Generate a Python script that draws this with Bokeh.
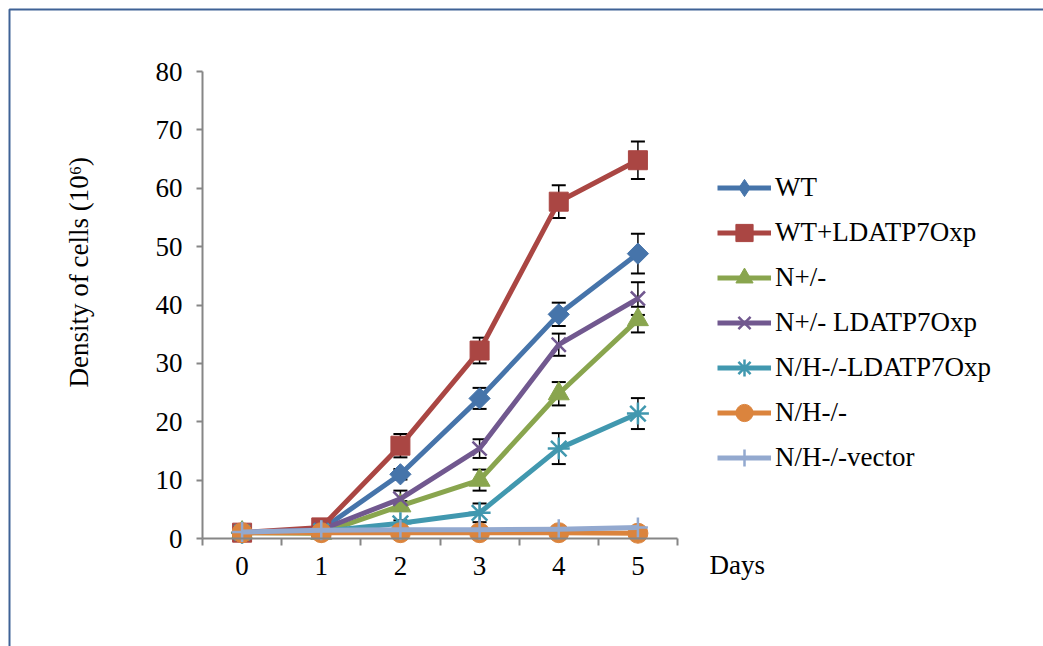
import math

from bokeh.plotting import figure
from bokeh.models import (Range1d, FixedTicker, Legend, LegendItem, Whisker, TeeHead,
                          ColumnDataSource, Label, BoxAnnotation)
from bokeh.embed import file_html
from bokeh.resources import INLINE

# ---- data -------------------------------------------------------------
days = [0, 1, 2, 3, 4, 5]
y_ticks = [0, 10, 20, 30, 40, 50, 60, 70, 80]

wt = [1.0, 1.5, 11.0, 24.0, 38.4, 48.8]
wt_err = [0.0, 0.0, 0.9, 1.8, 2.0, 3.4]

wt_ox = [1.0, 1.9, 15.9, 32.2, 57.7, 64.8]
wt_ox_err = [0.0, 0.0, 2.0, 2.2, 2.8, 3.2]

n_het = [1.0, 0.9, 5.6, 10.0, 24.8, 37.5]
n_het_err = [0.0, 0.0, 0.8, 1.8, 2.0, 2.2]

n_het_ox = [1.0, 1.5, 6.8, 15.4, 33.2, 41.1]
n_het_ox_err = [0.0, 0.0, 1.4, 1.6, 1.9, 2.8]

nh_ko_ox = [1.0, 1.2, 2.6, 4.4, 15.4, 21.4]
nh_ko_ox_err = [0.0, 0.0, 0.5, 1.6, 2.65, 2.65]

nh_ko = [1.0, 1.0, 1.0, 1.0, 1.0, 0.9]

nh_ko_vec = [1.1, 1.4, 1.5, 1.5, 1.6, 1.9]

names = ["WT", "WT+LDATP7Oxp", "N+/-", "N+/- LDATP7Oxp",
         "N/H-/-LDATP7Oxp", "N/H-/-", "N/H-/-vector"]

FONT = "Liberation Serif"
FSIZE = "27px"
AXIS_GREY = "#868686"

# ---- figure -----------------------------------------------------------
# The frame spans the whole canvas; the axes sit at fixed data locations
# so that the legend and titles beside the plot area are not clipped.
W, H = 1043, 646
PX_X = 475 / 6.0      # pixels per day
PX_Y = 467 / 80.0     # pixels per unit of density
x0 = -0.5 - 202 / PX_X
x1 = 5.5 + (W - 677) / PX_X
y1 = 80 + 71 / PX_Y
y0 = -(H - 538) / PX_Y

p = figure(width=W, height=H, output_backend="svg", toolbar_location=None,
           x_range=Range1d(x0, x1), y_range=Range1d(y0, y1),
           min_border=0, min_border_left=0, min_border_right=0,
           min_border_top=0, min_border_bottom=0)
p.background_fill_color = "white"
p.border_fill_color = "white"
p.outline_line_color = None
p.xgrid.visible = False
p.ygrid.visible = False

# category axis: labels on the days, ticks between them
xa = p.xaxis[0]
xa.fixed_location = 0
xa.bounds = (-0.5, 5.5)
xa.ticker = FixedTicker(ticks=days, minor_ticks=[d - 0.5 for d in days] + [5.5])
xa.major_tick_out = 0
xa.major_tick_in = 0
xa.minor_tick_out = 7
xa.minor_tick_in = 0
xa.minor_tick_line_color = AXIS_GREY
xa.minor_tick_line_width = 2
xa.axis_line_color = AXIS_GREY
xa.axis_line_width = 2
xa.major_label_standoff = 11
xa.major_label_text_font = FONT
xa.major_label_text_font_size = FSIZE
xa.major_label_text_color = "black"

ya = p.yaxis[0]
ya.fixed_location = -0.5
ya.bounds = (0, 80)
ya.ticker = FixedTicker(ticks=y_ticks)
ya.major_tick_out = 6
ya.major_tick_in = 0
ya.minor_tick_out = 0
ya.minor_tick_in = 0
ya.major_tick_line_color = AXIS_GREY
ya.major_tick_line_width = 2
ya.axis_line_color = AXIS_GREY
ya.axis_line_width = 2
ya.major_label_standoff = 14
ya.major_label_text_font = FONT
ya.major_label_text_font_size = FSIZE
ya.major_label_text_color = "black"

# ---- series -----------------------------------------------------------
# (name, values, errors, colour, plot marker, size, angle, legend marker)
series = [
    (names[0], wt, wt_err, "#4674AA", "square", 15, math.pi / 4, "diamond"),
    (names[1], wt_ox, wt_ox_err, "#AA4643", "square", 19, 0.0, "square"),
    (names[2], n_het, n_het_err, "#89A54E", "triangle", 21, 0.0, "triangle"),
    (names[3], n_het_ox, n_het_ox_err, "#71588F", "x", 20, 0.0, "x"),
    (names[4], nh_ko_ox, nh_ko_ox_err, "#4198AF", "asterisk", 22, 0.0, "asterisk"),
    (names[5], nh_ko, None, "#DB843D", "circle", 20, 0.0, "circle"),
    (names[6], nh_ko_vec, None, "#93A9CF", "cross", 20, 0.0, "cross"),
]

items = []
for name, vals, errs, color, marker, size, angle, key_marker in series:
    if errs is not None:
        xs = [d for d, e in zip(days, errs) if e > 0]
        up = [v + e for v, e in zip(vals, errs) if e > 0]
        lo = [v - e for v, e in zip(vals, errs) if e > 0]
        src = ColumnDataSource(dict(x=xs, upper=up, lower=lo))
        w = Whisker(base="x", upper="upper", lower="lower", source=src,
                    line_color="black", line_width=1.5,
                    upper_head=TeeHead(size=14, line_color="black", line_width=2),
                    lower_head=TeeHead(size=14, line_color="black", line_width=2),
                    level="underlay")
        p.add_layout(w)

    ln = p.line(days, vals, line_color=color, line_width=5, line_join="round")
    open_marker = marker in ("x", "asterisk", "cross")
    lw = 2.5 if open_marker else 1
    p.scatter(days, vals, marker=marker, size=size, angle=angle,
              fill_color=color, line_color=color, line_width=lw)
    # hidden copy of the series that only supplies the legend key marker
    key = p.scatter(days, vals, marker=key_marker, size=size,
                    fill_color=color, line_color=color, line_width=lw,
                    visible=False)
    items.append(LegendItem(label=name, renderers=[ln, key]))

legend = Legend(items=items, location=(717, 167), orientation="vertical",
                glyph_width=54, glyph_height=43, spacing=2,
                label_standoff=4, padding=0, margin=0,
                label_text_font=FONT, label_text_font_size=FSIZE,
                label_text_color="black",
                border_line_alpha=0, background_fill_alpha=0)
p.add_layout(legend)

# ---- titles -----------------------------------------------------------
p.add_layout(Label(x=5.5 + 32 / PX_X, y=-26 / PX_Y, text="Days", text_font=FONT,
                   text_font_size=FSIZE, text_color="black",
                   text_align="left", text_baseline="alphabetic"))
p.add_layout(Label(x=-0.5 - 124 / PX_X, y=151 / PX_Y,
                   text="Density of cells (10\u2076)",
                   angle=math.pi / 2, text_font=FONT, text_font_size=FSIZE,
                   text_color="black", text_align="left",
                   text_baseline="alphabetic"))

# chart area border (top and left edges fall inside the canvas)
p.add_layout(BoxAnnotation(left=x0 + 9 / PX_X, right=x1 + 5, top=y1 - 9 / PX_Y,
                           bottom=y0 - 20, fill_alpha=0, line_color="#3F6296",
                           line_alpha=1.0, line_width=2, level="overlay"))

open("out.html", "w").write(file_html(p, INLINE))
